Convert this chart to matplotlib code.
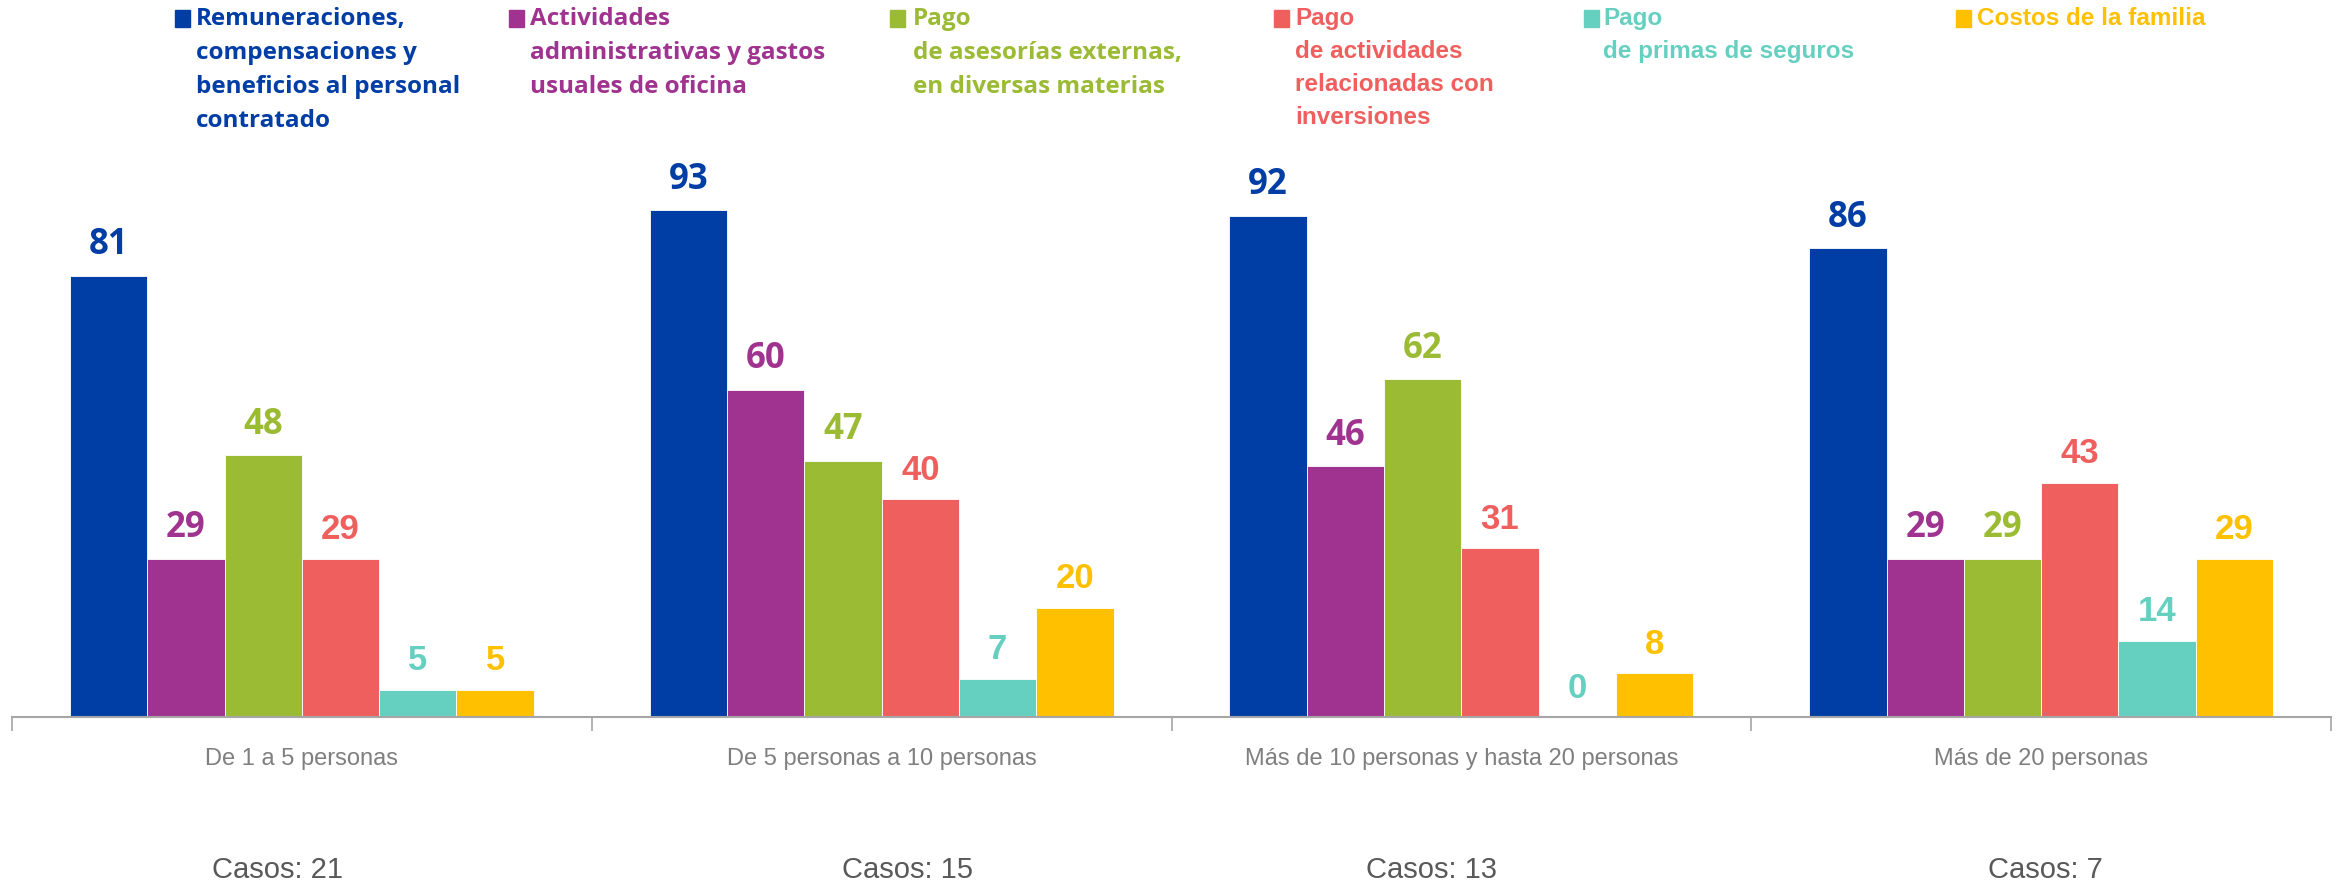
import matplotlib
matplotlib.use("Agg")
import matplotlib.pyplot as plt
from matplotlib import font_manager
from matplotlib.patches import Rectangle
import numpy as np

categories = ["De 1 a 5 personas", "De 5 personas a 10 personas",
              "Más de 10 personas y hasta 20 personas", "Más de 20 personas"]
casos = ["Casos: 21", "Casos: 15", "Casos: 13", "Casos: 7"]
series_names = [
    "Remuneraciones,\ncompensaciones y\nbeneficios al personal\ncontratado",
    "Actividades\nadministrativas y gastos\nusuales de oficina",
    "Pago\nde asesorías externas,\nen diversas materias",
    "Pago\nde actividades\nrelacionadas con\ninversiones",
    "Pago\nde primas de seguros",
    "Costos de la familia",
]
remuneraciones = [81, 93, 92, 86]
actividades = [29, 60, 46, 29]
asesorias = [48, 47, 62, 29]
inversiones = [29, 40, 31, 43]
seguros = [5, 7, 0, 14]
familia = [5, 20, 8, 29]
series = [remuneraciones, actividades, asesorias, inversiones, seguros, familia]
colors = ["#003DA5", "#A0338F", "#9BBB35", "#EF5F5E", "#66D0C0", "#FFC000"]

avail = {f.name for f in font_manager.fontManager.ttflist}
narrow = "Liberation Sans Narrow" if "Liberation Sans Narrow" in avail else "Liberation Sans"
calib = "Open Sans" if "Open Sans" in avail else "DejaVu Sans"
val_fonts = [calib, calib, calib, "Liberation Sans", "Liberation Sans", "Liberation Sans"]
leg_fonts = [calib, calib, calib, narrow, narrow, narrow]

W, H = 2343, 886
fig = plt.figure(figsize=(W / 100, H / 100), dpi=100)
ax = fig.add_axes([12 / W, 169 / H, (2331 - 12) / W, 545 / H])

n = len(series)
bw = 0.8 / n
x = np.arange(len(categories))
for i, (vals, c) in enumerate(zip(series, colors)):
    pos = x - 0.4 + bw * (i + 0.5)
    ax.bar(pos, vals, width=bw, color=c, edgecolor="white", linewidth=0.6)
    for xp, v in zip(pos, vals):
        ax.annotate(str(v), (xp, v), xytext=(0, 9), textcoords="offset points",
                    ha="center", va="bottom", color=c, fontsize=25,
                    fontweight="bold", family=val_fonts[i])

ax.set_xlim(-0.5, len(categories) - 0.5)
ax.set_ylim(0, 100)
for s in ["top", "right", "left"]:
    ax.spines[s].set_visible(False)
ax.spines["bottom"].set_color("#A6A6A6")
ax.spines["bottom"].set_linewidth(1.5)
ax.set_yticks([])
ax.set_xticks(np.arange(-0.5, len(categories), 1.0))
ax.set_xticklabels([])
ax.tick_params(axis="x", length=10, color="#A6A6A6", width=1.2, direction="out")

for xi, lab in zip(x, categories):
    ax.text(xi, -42 / 5.45, lab, ha="center", va="center", color="#7F7F7F",
            fontsize=17, family=narrow)

casos_x = [278, 907, 1431, 2045]
for cx, t in zip(casos_x, casos):
    fig.text(cx / W, 16 / H, t, ha="center", va="center", color="#595959",
             fontsize=21, family=narrow)

leg_sq = [175, 509, 890, 1274, 1584, 1956]
leg_tx = [196, 530, 913, 1295, 1603, 1977]
for sx, tx, name, c, lf in zip(leg_sq, leg_tx, series_names, colors, leg_fonts):
    fig.patches.append(Rectangle((sx / W, 1 - 27 / H), 15 / W, 17 / H,
                                 transform=fig.transFigure, color=c))
    fig.text(tx / W, 1 - 7 / H, name, ha="left", va="top", color=c,
             fontsize=17.5, fontweight="bold", family=lf, linespacing=1.56)

fig.savefig("out.png", dpi=100)
